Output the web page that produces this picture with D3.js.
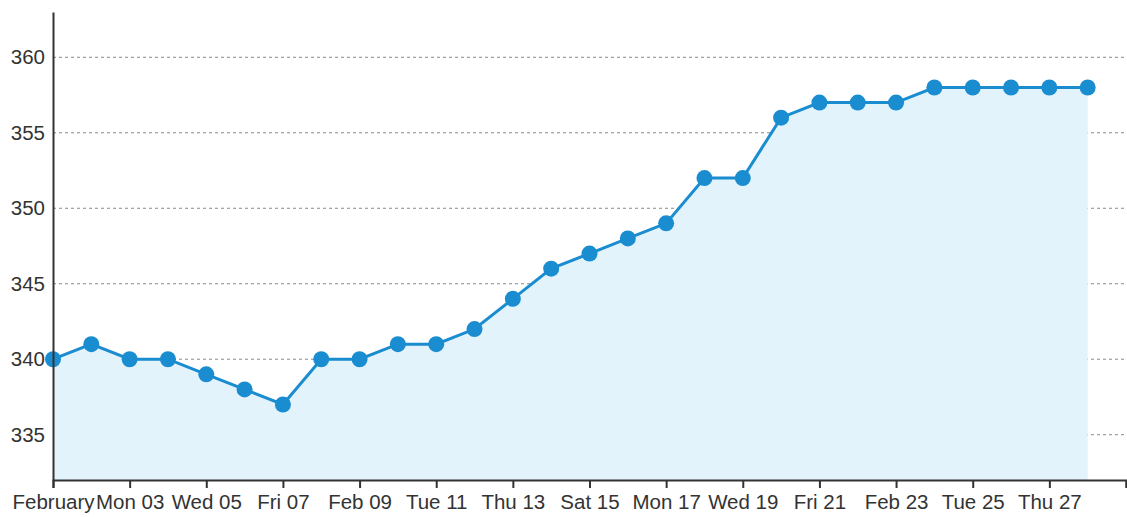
<!DOCTYPE html>
<html>
<head>
<meta charset="utf-8">
<script src="https://cdn.jsdelivr.net/npm/d3@7"></script>
<style>
  body { margin: 0; background: #fff; }
  text { font-family: Arial, "Liberation Sans", sans-serif; }
</style>
</head>
<body>
<div id="chart"></div>
<script>
// daily values, Feb 1 .. Feb 28 2020
const days = ["2020-02-01","2020-02-02","2020-02-03","2020-02-04","2020-02-05","2020-02-06","2020-02-07",
  "2020-02-08","2020-02-09","2020-02-10","2020-02-11","2020-02-12","2020-02-13","2020-02-14",
  "2020-02-15","2020-02-16","2020-02-17","2020-02-18","2020-02-19","2020-02-20","2020-02-21",
  "2020-02-22","2020-02-23","2020-02-24","2020-02-25","2020-02-26","2020-02-27","2020-02-28"]
const values = [340, 341, 340, 340, 339, 338, 337, 340, 340, 341, 341, 342, 344, 346,
  347, 348, 349, 352, 352, 356, 357, 357, 357, 358, 358, 358, 358, 358]
const yTicks = [335, 340, 345, 350, 355, 360]

const width = 1127, height = 517
const margin = {top: 12, right: 1, bottom: 37, left: 53}

const parse = d3.timeParse("%Y-%m-%d")
const data = days.map((d, i) => ({date: parse(d), value: values[i]}))

const svg = d3.select("#chart").append("svg")
    .attr("width", width)
    .attr("height", height)

const x = d3.scaleTime()
    .domain([parse("2020-02-01"), parse("2020-02-29")])
    .range([margin.left, width - margin.right])

const y = d3.scaleLinear()
    .domain([d3.min(values) - 5, d3.max(values) + 5])
    .range([height - margin.bottom, margin.top])

// dotted grid
svg.append("g")
    .selectAll("line")
    .data(yTicks)
    .enter().append("line")
    .attr("x1", margin.left)
    .attr("x2", width)
    .attr("y1", d => y(d))
    .attr("y2", d => y(d))
    .attr("stroke", "#888")
    .attr("stroke-dasharray", "3,3")

// area under the line
svg.append("path")
    .datum(data)
    .attr("fill", "#e2f3fc")
    .attr("d", d3.area()
        .x(d => x(d.date))
        .y0(y.range()[0])
        .y1(d => y(d.value)))

svg.append("path")
    .datum(data)
    .attr("fill", "none")
    .attr("stroke", "#1a8cd0")
    .attr("stroke-width", 3)
    .attr("d", d3.line()
        .x(d => x(d.date))
        .y(d => y(d.value)))

svg.append("g")
    .selectAll("circle")
    .data(data)
    .enter().append("circle")
    .attr("cx", d => x(d.date))
    .attr("cy", d => y(d.value))
    .attr("r", 8)
    .attr("fill", "#1a8cd0")

// axes
const fmt = d3.scaleTime().tickFormat()
const xAxis = svg.append("g")
    .attr("transform", `translate(0,${height - margin.bottom})`)
    .call(d3.axisBottom(x).ticks(d3.timeDay.every(2)).tickSize(8).tickPadding(6)
        .tickFormat(d => d.getTime() === parse("2020-02-29").getTime() ? "" : fmt(d)))

const yAxis = svg.append("g")
    .attr("transform", `translate(${margin.left},0)`)
    .call(d3.axisLeft(y).tickValues(yTicks).tickSize(0).tickPadding(8).tickSizeOuter(0))

for (const g of [xAxis, yAxis]) {
  g.select(".domain").attr("stroke", "#333").attr("stroke-width", 2)
  g.selectAll(".tick line").attr("stroke", "#333").attr("stroke-width", 2)
  g.selectAll("text").attr("font-size", 20.5).attr("fill", "#333")
    .attr("font-family", "Arial, 'Liberation Sans', sans-serif")
}
</script>
</body>
</html>
